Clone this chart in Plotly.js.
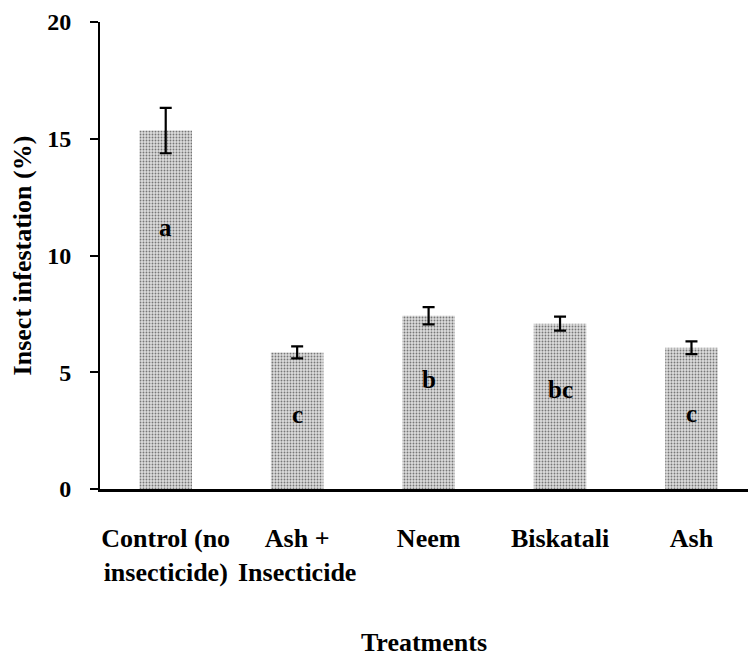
<!DOCTYPE html>
<html>
<head>
<meta charset="utf-8">
<script src="https://cdn.plot.ly/plotly-3.0.1.min.js"></script>
<style>html,body{margin:0;padding:0;background:#fff;}#chart{width:749px;height:657px;}</style>
</head>
<body>
<div id="chart"></div>
<script>
// Data
var categories = ["Control (no<br>insecticide)", "Ash +<br>Insecticide", "Neem", "Biskatali", "Ash"];
var infestation = [15.35, 5.85, 7.42, 7.08, 6.05];
var errors = [0.97, 0.26, 0.37, 0.3, 0.27];
var letters = ["a", "c", "b", "bc", "c"];

// Label placement (layout only)
var letterY = [11.2, 3.2, 4.7, 4.25, 3.25];

var font = "Liberation Serif, Times New Roman, serif";

var trace = {
  type: "bar",
  x: categories,
  y: infestation,
  width: 0.4,
  marker: {
    color: "#d0d0d0",
    line: {width: 0},
    pattern: {shape: ".", bgcolor: "#dcdcdc", fgcolor: "#777777", size: 3, solidity: 0.3}
  },
  error_y: {type: "data", array: errors, visible: true, color: "#000", thickness: 2.2, width: 6},
  hoverinfo: "none"
};

var annotations = letters.map(function (t, i) {
  return {x: categories[i], y: letterY[i], xref: "x", yref: "y", text: "<b>" + t + "</b>",
    showarrow: false, font: {family: font, size: 25, color: "#000"}};
});

var layout = {
  width: 749, height: 657,
  margin: {l: 100, r: 1, t: 22, b: 168},
  paper_bgcolor: "#fff", plot_bgcolor: "#fff",
  showlegend: false,
  font: {family: font, color: "#000"},
  xaxis: {
    type: "category",
    range: [-0.5, 4.43],
    showline: true, linecolor: "#000", linewidth: 2.5,
    ticks: "", showgrid: false, zeroline: false,
    ticklabelstandoff: 24,
    tickfont: {family: font, size: 26, color: "#000", weight: "bold"},
    title: {text: "<b>Treatments</b>", font: {family: font, size: 26, color: "#000"}, standoff: 74}
  },
  yaxis: {
    range: [0, 20],
    tickvals: [0, 5, 10, 15, 20],
    showline: true, linecolor: "#000", linewidth: 2,
    ticks: "outside", ticklen: 8, tickwidth: 2, tickcolor: "#000",
    showgrid: false, zeroline: false,
    ticklabelstandoff: 14,
    tickfont: {family: font, size: 24, color: "#000", weight: "bold"},
    title: {text: "<b>Insect infestation (%)</b>", font: {family: font, size: 26, color: "#000"}, standoff: 8}
  },
  annotations: annotations
};

Plotly.newPlot("chart", [trace], layout, {displayModeBar: false, staticPlot: true});
</script>
</body>
</html>
